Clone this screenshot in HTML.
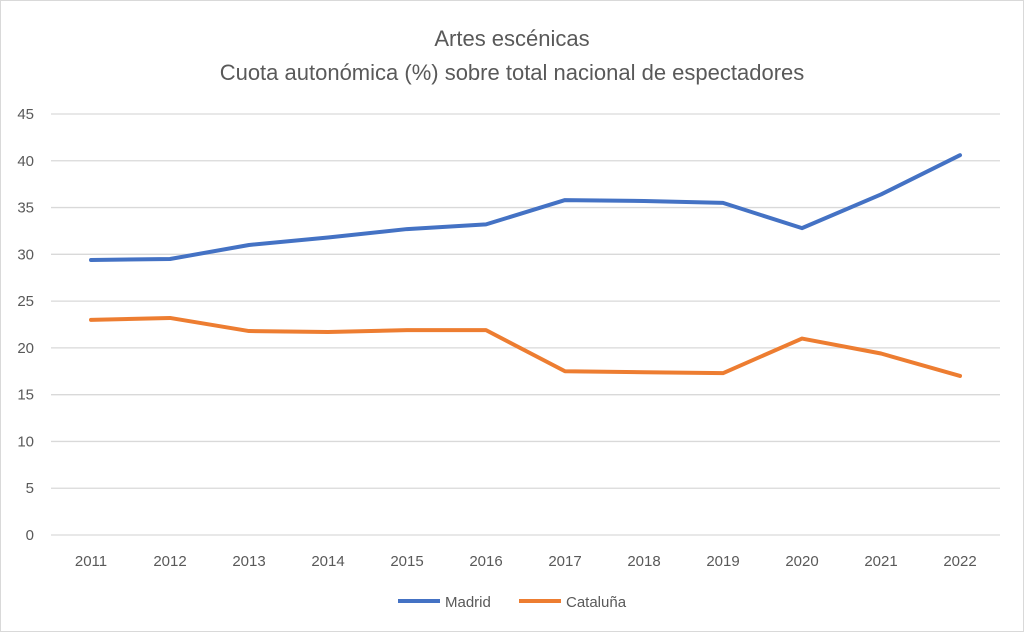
<!DOCTYPE html>
<html><head><meta charset="utf-8"><style>
html,body{margin:0;padding:0;background:#fff;}
body{width:1025px;height:633px;overflow:hidden;font-family:"Liberation Sans",sans-serif;}
</style></head><body>
<svg width="1025" height="633" xmlns="http://www.w3.org/2000/svg">
<rect x="0.5" y="0.5" width="1023" height="631" fill="#fff" stroke="#d9d9d9"/>
<text x="512" y="46" text-anchor="middle" font-size="22" fill="#595959">Artes escénicas</text>
<text x="512" y="80" text-anchor="middle" font-size="22" fill="#595959">Cuota autonómica (%) sobre total nacional de espectadores</text>
<g id="grid"></g><g id="lines"></g>
<g>
<line x1="398" y1="601" x2="440" y2="601" stroke="#4472C4" stroke-width="4"/>
<text x="445" y="607" font-size="15" fill="#595959">Madrid</text>
<line x1="519" y1="601" x2="561" y2="601" stroke="#ED7D31" stroke-width="4"/>
<text x="566" y="607" font-size="15" fill="#595959">Cataluña</text>
</g>
</svg>
<script>
const years=['2011','2012','2013','2014','2015','2016','2017','2018','2019','2020','2021','2022'];
const madrid=[29.4,29.5,31.0,31.8,32.7,33.2,35.8,35.7,35.5,32.8,36.4,40.6];
const cataluna=[23.0,23.2,21.8,21.7,21.9,21.9,17.5,17.4,17.3,21.0,19.4,17.0];
const yTicks=[0,5,10,15,20,25,30,35,40,45];
const NS='http://www.w3.org/2000/svg';
const x=i=>91+i*79;
const y=v=>535-v*(421/45);
const grid=document.getElementById('grid'),lines=document.getElementById('lines');
yTicks.forEach(t=>{
 const l=document.createElementNS(NS,'line');
 l.setAttribute('x1',51);l.setAttribute('x2',1000);l.setAttribute('y1',y(t));l.setAttribute('y2',y(t));
 l.setAttribute('stroke','#d9d9d9');l.setAttribute('stroke-width','1.3');
 
 
 grid.appendChild(l);
 const tx=document.createElementNS(NS,'text');
 tx.setAttribute('x',34);tx.setAttribute('y',y(t)+5);tx.setAttribute('text-anchor','end');
 tx.setAttribute('font-size','15');tx.setAttribute('fill','#595959');tx.textContent=t;
 
 
 grid.appendChild(tx);
});
years.forEach((yr,i)=>{
 const tx=document.createElementNS(NS,'text');
 tx.setAttribute('x',x(i));tx.setAttribute('y',566);tx.setAttribute('text-anchor','middle');
 tx.setAttribute('font-size','15');tx.setAttribute('fill','#595959');tx.textContent=yr;
 
 
 grid.appendChild(tx);
});
function series(vals,color,name){
 const p=document.createElementNS(NS,'polyline');
 p.setAttribute('points',vals.map((v,i)=>x(i)+','+y(v)).join(' '));
 p.setAttribute('fill','none');p.setAttribute('stroke',color);p.setAttribute('stroke-width','4');
 p.setAttribute('stroke-linejoin','round');p.setAttribute('stroke-linecap','round');
 
 
 lines.appendChild(p);
}
series(madrid,'#4472C4','madrid-line');
series(cataluna,'#ED7D31','cataluna-line');
</script>
</body></html>
